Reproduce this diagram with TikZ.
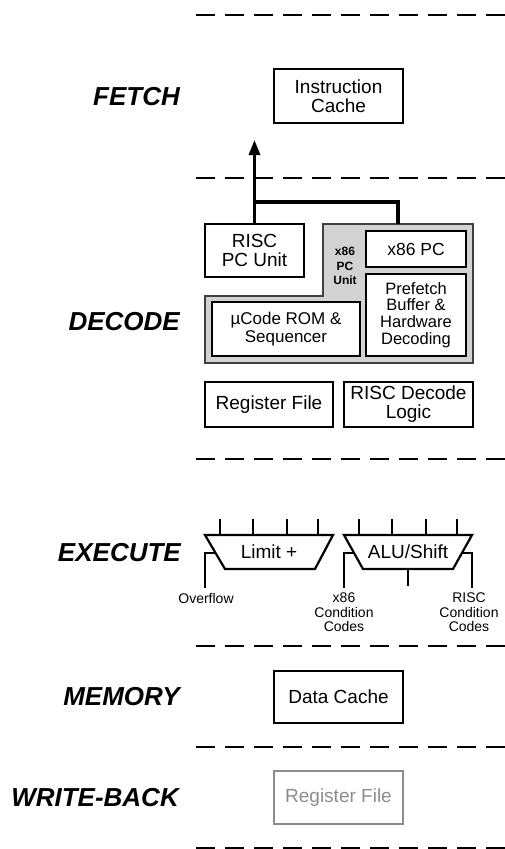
\documentclass[tikz,border=0pt]{standalone}
\usepackage{fontspec}
\setmainfont{Liberation Sans}
\usetikzlibrary{arrows.meta}
\definecolor{regfill}{HTML}{D2D2D2}
\definecolor{regline}{HTML}{404040}
\definecolor{fadegray}{HTML}{8C8C8C}
\tikzset{
  box/.style={draw, line width=2.2pt, inner sep=0pt, align=center,
    font=\fontsize{19}{19}\selectfont},
  stage/.style={anchor=east, inner sep=0pt, font=\fontsize{26}{26}\selectfont\bfseries\itshape},
  dashline/.style={line width=2.5pt, dash pattern=on 19pt off 10pt},
  conn/.style={line width=3.2pt},
  wire/.style={line width=2.2pt},
  small/.style={inner sep=0pt, align=center, font=\fontsize{14}{14.7}\selectfont},
}
\begin{document}
\begin{tikzpicture}[x=1pt,y=-1pt]
\useasboundingbox (0,0) rectangle (504,849);
% stage separators
\foreach \yy in {15,178,459,646,747,848}
  \draw[dashline] (196,\yy) -- (505,\yy);
% stage labels
\node[stage] (lf) at (180,97) {FETCH};
\node[stage] (ld) at (180,322) {DECODE};
\node[stage] (le) at (181,553) {EXECUTE};
\node[stage] (lm) at (180,697) {MEMORY};
\node[stage] (lw) at (179,798) {WRITE-BACK};
% fetch
\node[box, minimum width=129pt, minimum height=54pt] (ic) at (338.5,96) {Instruction\\Cache};
% decode
\draw[line width=2.5pt, draw=regline, fill=regfill]
  (323,224) coordinate (pcu) -- (473,224) -- (473,363) -- (205,363) -- (205,296) -- (323,296) -- cycle;
\coordinate (pcutop) at (398,224);
\node[box, minimum width=99pt, minimum height=53pt, fill=white] (rpc) at (254.5,250.5) {RISC\\PC Unit};
\node[box, minimum width=100pt, minimum height=36pt, fill=white, font=\fontsize{17.5}{17.5}\selectfont] (xpc) at (416,249) {x86 PC};
\node[box, minimum width=100pt, minimum height=82pt, fill=white, font=\fontsize{16.5}{16.7}\selectfont] (pref) at (416,315) {Prefetch\\Buffer \&\\Hardware\\Decoding};
\node[box, minimum width=148pt, minimum height=54pt, fill=white, font=\fontsize{17}{17.5}\selectfont] (uc) at (286,329) {µCode ROM \&\\Sequencer};
\node[inner sep=0pt, align=center, font=\fontsize{12}{14.5}\selectfont\bfseries] (xpcl) at (345,266) {x86\\PC\\Unit};
\node[box, minimum width=128pt, minimum height=45pt] (rf) at (269,404.5) {Register File};
\node[box, minimum width=129pt, minimum height=45pt] (rdl) at (408.5,404.5) {RISC Decode\\Logic};
% connectors fetch/decode
\coordinate (tip) at (254.5,140);
\coordinate (jn) at (254.5,202);
\draw[conn, -{Triangle[length=15pt,width=11pt]}] (rpc.north) -- (tip);
\draw[conn] (jn) -| (pcutop);
% execute
\draw[wire] (205,535) coordinate (la) -- (333,535) coordinate (lb) -- (315,569) coordinate (lc) -- (225,569) coordinate (ld2) -- cycle;
\node[inner sep=0pt, font=\fontsize{19}{19}\selectfont] (lim) at (269,552) {Limit +};
\draw[wire] (344,535) coordinate (aa) -- (472,535) coordinate (ab) -- (453,569) coordinate (ac) -- (363,569) coordinate (ad) -- cycle;
\node[inner sep=0pt, font=\fontsize{19}{19}\selectfont] (alu) at (408,552) {ALU/Shift};
\foreach \xx in {220,253,287,318,359,392,426,457}
  \draw[wire] (\xx,519) -- (\xx,535);
\draw[wire] (215.6,553) -- (205,553) -- (205,588);
\draw[wire] (354,553) -- (344,553) -- (344,588);
\draw[wire] (462,553) -- (472,553) -- (472,588);
\draw[wire] (408,569) -- (408,586);
\node[small, anchor=base] (ovf) at (206,603) {Overflow};
\node[small, anchor=north] (xcc) at (344,592.5) {x86\\Condition\\Codes};
\node[small, anchor=north] (rcc) at (469,592.5) {RISC\\Condition\\Codes};
% memory
\node[box, minimum width=129pt, minimum height=52pt] (dc) at (338.5,697) {Data Cache};
% write-back
\node[box, minimum width=129pt, minimum height=53pt, draw=fadegray, text=fadegray] (wrf) at (338.5,797.5) {Register File};
\end{tikzpicture}
\end{document}
